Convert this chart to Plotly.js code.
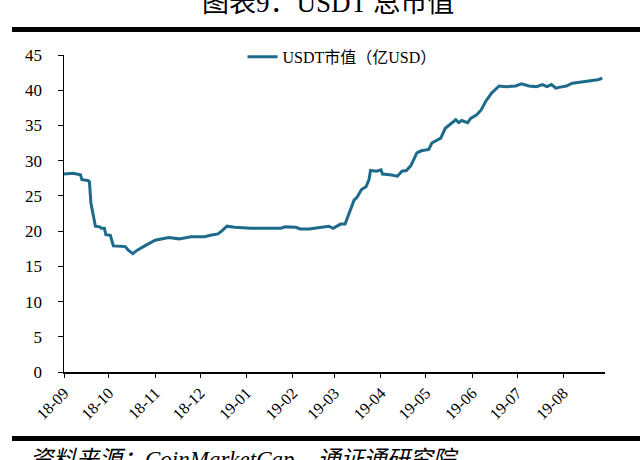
<!DOCTYPE html>
<html>
<head>
<meta charset="utf-8">
<script src="https://cdn.plot.ly/plotly-3.0.1.min.js"></script>
<style>
html,body{margin:0;padding:0;background:#fff;}
#chart{width:640px;height:460px;}
</style>
</head>
<body>
<div id="chart"></div>
<script>
// Data (USDT market cap, 100 million USD)
const dates = [
  "2018-09-01","2018-09-07","2018-09-12","2018-09-13","2018-09-17","2018-09-18","2018-09-19","2018-09-21",
  "2018-09-22","2018-09-25","2018-09-26","2018-09-28","2018-09-29","2018-10-02","2018-10-04","2018-10-12",
  "2018-10-14","2018-10-17","2018-10-20","2018-10-25","2018-11-01","2018-11-10","2018-11-17","2018-11-25",
  "2018-12-04","2018-12-08","2018-12-13","2018-12-16","2018-12-19","2018-12-24","2019-01-04","2019-01-24",
  "2019-01-27","2019-02-03","2019-02-06","2019-02-12","2019-02-18","2019-02-25","2019-02-28","2019-03-05",
  "2019-03-08","2019-03-10","2019-03-14","2019-03-16","2019-03-19","2019-03-22","2019-03-24","2019-03-25",
  "2019-03-29","2019-04-01","2019-04-02","2019-04-07","2019-04-12","2019-04-15","2019-04-18","2019-04-21",
  "2019-04-25","2019-04-28","2019-05-03","2019-05-05","2019-05-08","2019-05-11","2019-05-14","2019-05-18",
  "2019-05-21","2019-05-23","2019-05-25","2019-05-29","2019-05-31","2019-06-04","2019-06-07","2019-06-10",
  "2019-06-14","2019-06-19","2019-06-24","2019-06-30","2019-07-04","2019-07-09","2019-07-14","2019-07-18",
  "2019-07-21","2019-07-24","2019-07-27","2019-07-29","2019-08-03","2019-08-07","2019-08-14","2019-08-20",
  "2019-08-24","2019-08-27"
];
const usdtCap = [
  28.1,28.2,28.0,27.3,27.2,27.0,24.0,21.5,
  20.7,20.6,20.4,20.4,19.5,19.4,17.9,17.8,
  17.3,16.8,17.3,17.9,18.7,19.1,18.9,19.2,
  19.2,19.4,19.6,20.1,20.7,20.55,20.4,20.4,
  20.6,20.55,20.3,20.3,20.45,20.7,20.4,21.0,
  21.0,22.1,24.4,24.8,25.9,26.3,27.3,28.6,
  28.5,28.7,28.1,28.0,27.8,28.5,28.6,29.3,
  31.1,31.4,31.6,32.5,32.9,33.2,34.6,35.3,
  35.8,35.4,35.7,35.4,36.0,36.5,37.2,38.4,
  39.6,40.6,40.5,40.6,40.9,40.6,40.5,40.8,
  40.5,40.8,40.3,40.4,40.6,41.0,41.2,41.4,
  41.5,41.7
];
const seriesName = "USDT市值（亿USD）";
const chartTitle = "图表9：USDT 总市值";
const sourceText = "资料来源：CoinMarketCap，通证通研究院";
const yTicks = [0,5,10,15,20,25,30,35,40,45];

const serif = "'Liberation Serif', 'Noto Sans CJK SC', serif";

const trace = {
  x: dates, y: usdtCap, type: "scatter", mode: "lines", name: seriesName,
  line: {color: "#1e6a8a", width: 3}
};

const layout = {
  width: 640, height: 460,
  margin: {l: 64, r: 35, t: 55, b: 88},
  paper_bgcolor: "#fff", plot_bgcolor: "#fff",
  font: {family: serif},
  showlegend: true,
  legend: {
    x: 0.33, y: 0.994, xanchor: "left", yanchor: "middle", orientation: "h",
    font: {family: serif, size: 16, color: "#000"},
    bgcolor: "rgba(0,0,0,0)"
  },
  xaxis: {
    type: "date",
    range: ["2018-09-01", "2019-08-28 20:00"],
    tick0: "2018-09-01", dtick: "M1", tickformat: "%y-%m",
    tickangle: -45,
    showgrid: false, zeroline: false,
    showline: true, linecolor: "#000", linewidth: 1.5,
    ticks: "outside", ticklen: 4, tickcolor: "#000",
    tickfont: {family: serif, size: 16, color: "#000"}
  },
  yaxis: {
    range: [0, 45], tickvals: yTicks,
    showgrid: false, zeroline: false,
    showline: true, linecolor: "#000", linewidth: 1.5,
    ticks: "outside", ticklen: 5, tickcolor: "#000",
    ticklabelstandoff: 12,
    tickfont: {family: serif, size: 17, color: "#000"}
  },
  shapes: [
    {type: "line", xref: "paper", yref: "paper", x0: -0.0961, x1: 1.07, y0: 1.0804, y1: 1.0804,
     line: {color: "#000", width: 5}},
    {type: "line", xref: "paper", yref: "paper", x0: -0.0961, x1: 1.07, y0: -0.2098, y1: -0.2098,
     line: {color: "#000", width: 5}}
  ],
  annotations: [
    {text: chartTitle, xref: "paper", yref: "paper", x: 0.488, y: 1.164,
     xanchor: "center", yanchor: "middle", showarrow: false,
     font: {family: serif, size: 27, color: "#000"}},
    {text: "<i>" + sourceText + "</i>", xref: "paper", yref: "paper", x: -0.0665, y: -0.2775,
     xanchor: "left", yanchor: "middle", showarrow: false,
     font: {family: serif, size: 23, color: "#000"}}
  ]
};

Plotly.newPlot("chart", [trace], layout, {displayModeBar: false, staticPlot: true});
</script>
</body>
</html>
